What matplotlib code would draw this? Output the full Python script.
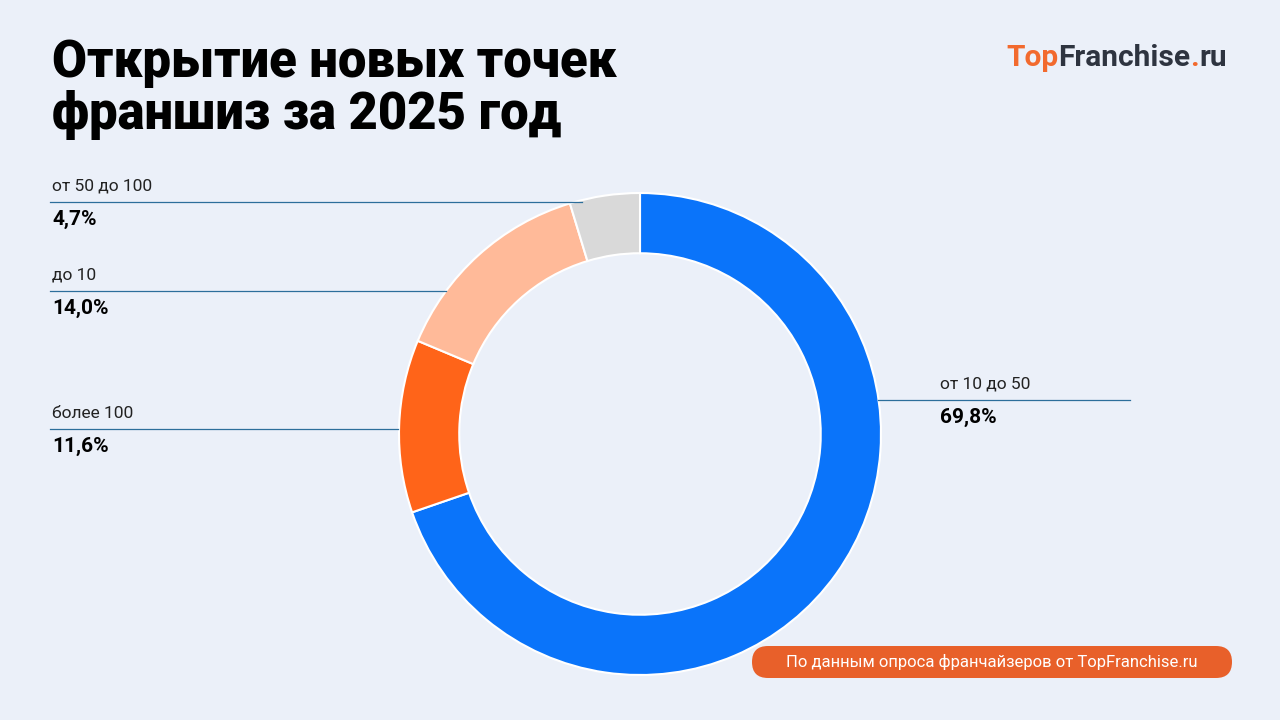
import matplotlib.pyplot as plt
from matplotlib.patches import FancyBboxPatch

plt.rcParams['font.family'] = ['Roboto', 'DejaVu Sans']

categories = ["от 10 до 50", "более 100", "до 10", "от 50 до 100"]
values = [69.8, 11.6, 14.0, 4.7]
colors = ["#0A74FA", "#FF6419", "#FFBA99", "#D9D9D9"]
# label anchor rows (pixel y) and line extent
label_y = [400, 429, 291, 202]
line_x = [(878, 1130), (50, 398), (50, 446), (50, 582)]

W, H = 1280, 720
BG = "#EBF0F9"
fig = plt.figure(figsize=(12.8, 7.2), dpi=100, facecolor=BG)


def fx(x):
    return x / W


def fy(y):
    return 1 - y / H


cx, cy, r = 640, 434, 241
ax = fig.add_axes([fx(cx - r), fy(cy + r), 2 * r / W, 2 * r / H])
ax.pie(values, colors=colors, startangle=90, counterclock=False,
       wedgeprops=dict(width=0.25, edgecolor="white", linewidth=1.5))
ax.set_aspect("equal")
ax.set_xlim(-1, 1)
ax.set_ylim(-1, 1)
ax.axis("off")

fig.text(fx(52), fy(89), "Открытие новых точек\nфраншиз за 2025 год", fontsize=36.5,
         fontweight="black", color="black", va="center", linespacing=1.05)

for cat, v, y, (x0, x1) in zip(categories, values, label_y, line_x):
    fig.add_artist(plt.Line2D([fx(x0), fx(x1)], [fy(y), fy(y)], color="#2C6E9B", lw=0.9))
    tx = 940 if x0 > 600 else 52
    fig.text(fx(tx), fy(y - 16), cat, fontsize=12.5, color="#222222", va="center")
    fig.text(fx(tx), fy(y + 17), f"{v:.1f}%".replace(".", ","), fontsize=15,
             fontweight="bold", color="black", va="center")

# logo, pieces chained left to right
renderer = fig.canvas.get_renderer()
x = 1006
for part, col in [("Top", "#F26A2E"), ("Franchise", "#2E3440"), (".", "#F26A2E"), ("ru", "#2E3440")]:
    t = fig.text(fx(x), fy(58), part, fontsize=21.5, fontweight="bold", color=col, va="center")
    x += t.get_window_extent(renderer).width

box = FancyBboxPatch((fx(752), fy(678)), fx(480), 32 / H,
                     boxstyle="round,pad=0,rounding_size=0.0125", transform=fig.transFigure,
                     facecolor="#E8602A", edgecolor="none", mutation_aspect=W / H)
fig.add_artist(box)
fig.text(fx(992), fy(662), "По данным опроса франчайзеров от TopFranchise.ru", fontsize=12,
         color="white", ha="center", va="center")

fig.savefig("out.png", dpi=100, facecolor=BG)
